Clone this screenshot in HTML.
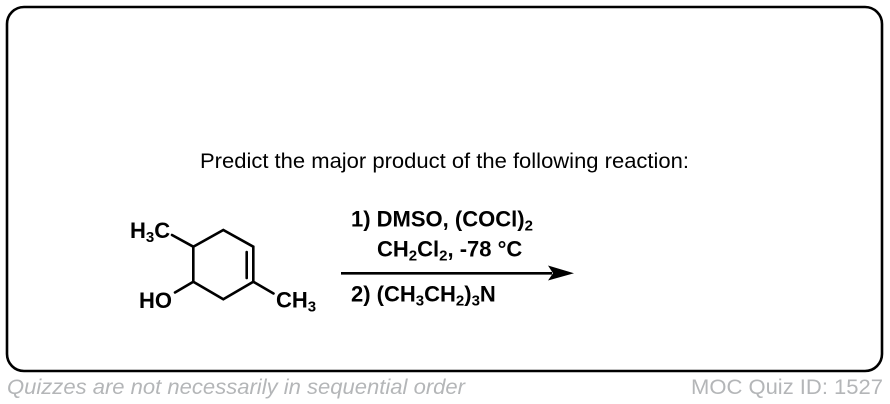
<!DOCTYPE html>
<html>
<head>
<meta charset="utf-8">
<style>
html,body{margin:0;padding:0;background:#fff;width:890px;height:404px;overflow:hidden}
svg{display:block}
text{font-family:"Liberation Sans",Arial,sans-serif}
.b{font-weight:bold;font-size:22px;fill:#000}
.s{font-size:15px}
</style>
</head>
<body>
<svg width="890" height="404" viewBox="0 0 890 404" xmlns="http://www.w3.org/2000/svg">
<rect x="7" y="7" width="875" height="364" rx="17" ry="17" fill="#fff" stroke="#000" stroke-width="2.6"/>
<text x="200" y="168" font-size="21" fill="#000" textLength="489" lengthAdjust="spacingAndGlyphs">Predict the major product of the following reaction:</text>
<g fill="none" stroke="#000" stroke-width="2.6" stroke-linecap="round" stroke-linejoin="miter">
<path d="M193.3 246.7L223.3 230L253.3 246.7V281.7L223.3 299.3L193.3 281.7Z"/>
<path d="M246.7 252V278"/>
<path d="M193.3 246.7L172 235"/>
<path d="M193.3 281.7L175 292.5"/>
<path d="M253.3 281.7L273.5 293.5"/>
</g>
<text class="b" x="130" y="238">H<tspan class="s" dy="4">3</tspan><tspan dy="-4">C</tspan></text>
<text class="b" x="139" y="308">HO</text>
<text class="b" x="276" y="307.5">CH<tspan class="s" dy="4">3</tspan></text>
<text class="b" x="351" y="226.5">1) DMSO, (COCl)<tspan class="s" dy="4">2</tspan></text>
<text class="b" x="377" y="256.5">CH<tspan class="s" dy="4">2</tspan><tspan dy="-4">Cl</tspan><tspan class="s" dy="4">2</tspan><tspan dy="-4">, -78 °C</tspan></text>
<text class="b" x="351" y="301.5">2) (CH<tspan class="s" dy="4">3</tspan><tspan dy="-4">CH</tspan><tspan class="s" dy="4">2</tspan><tspan dy="-4">)</tspan><tspan class="s" dy="4">3</tspan><tspan dy="-4">N</tspan></text>
<path d="M341 273.3H552" stroke="#000" stroke-width="2.6" fill="none"/>
<path d="M548 265.5L574 273.3L548 280.5L553 273.3Z" fill="#000"/>
<text x="7" y="394" font-size="21" font-style="italic" fill="#b4b6b8" textLength="458" lengthAdjust="spacingAndGlyphs">Quizzes are not necessarily in sequential order</text>
<text x="691" y="394" font-size="21" fill="#b4b6b8" textLength="192" lengthAdjust="spacingAndGlyphs">MOC Quiz ID: 1527</text>
</svg>
</body>
</html>
